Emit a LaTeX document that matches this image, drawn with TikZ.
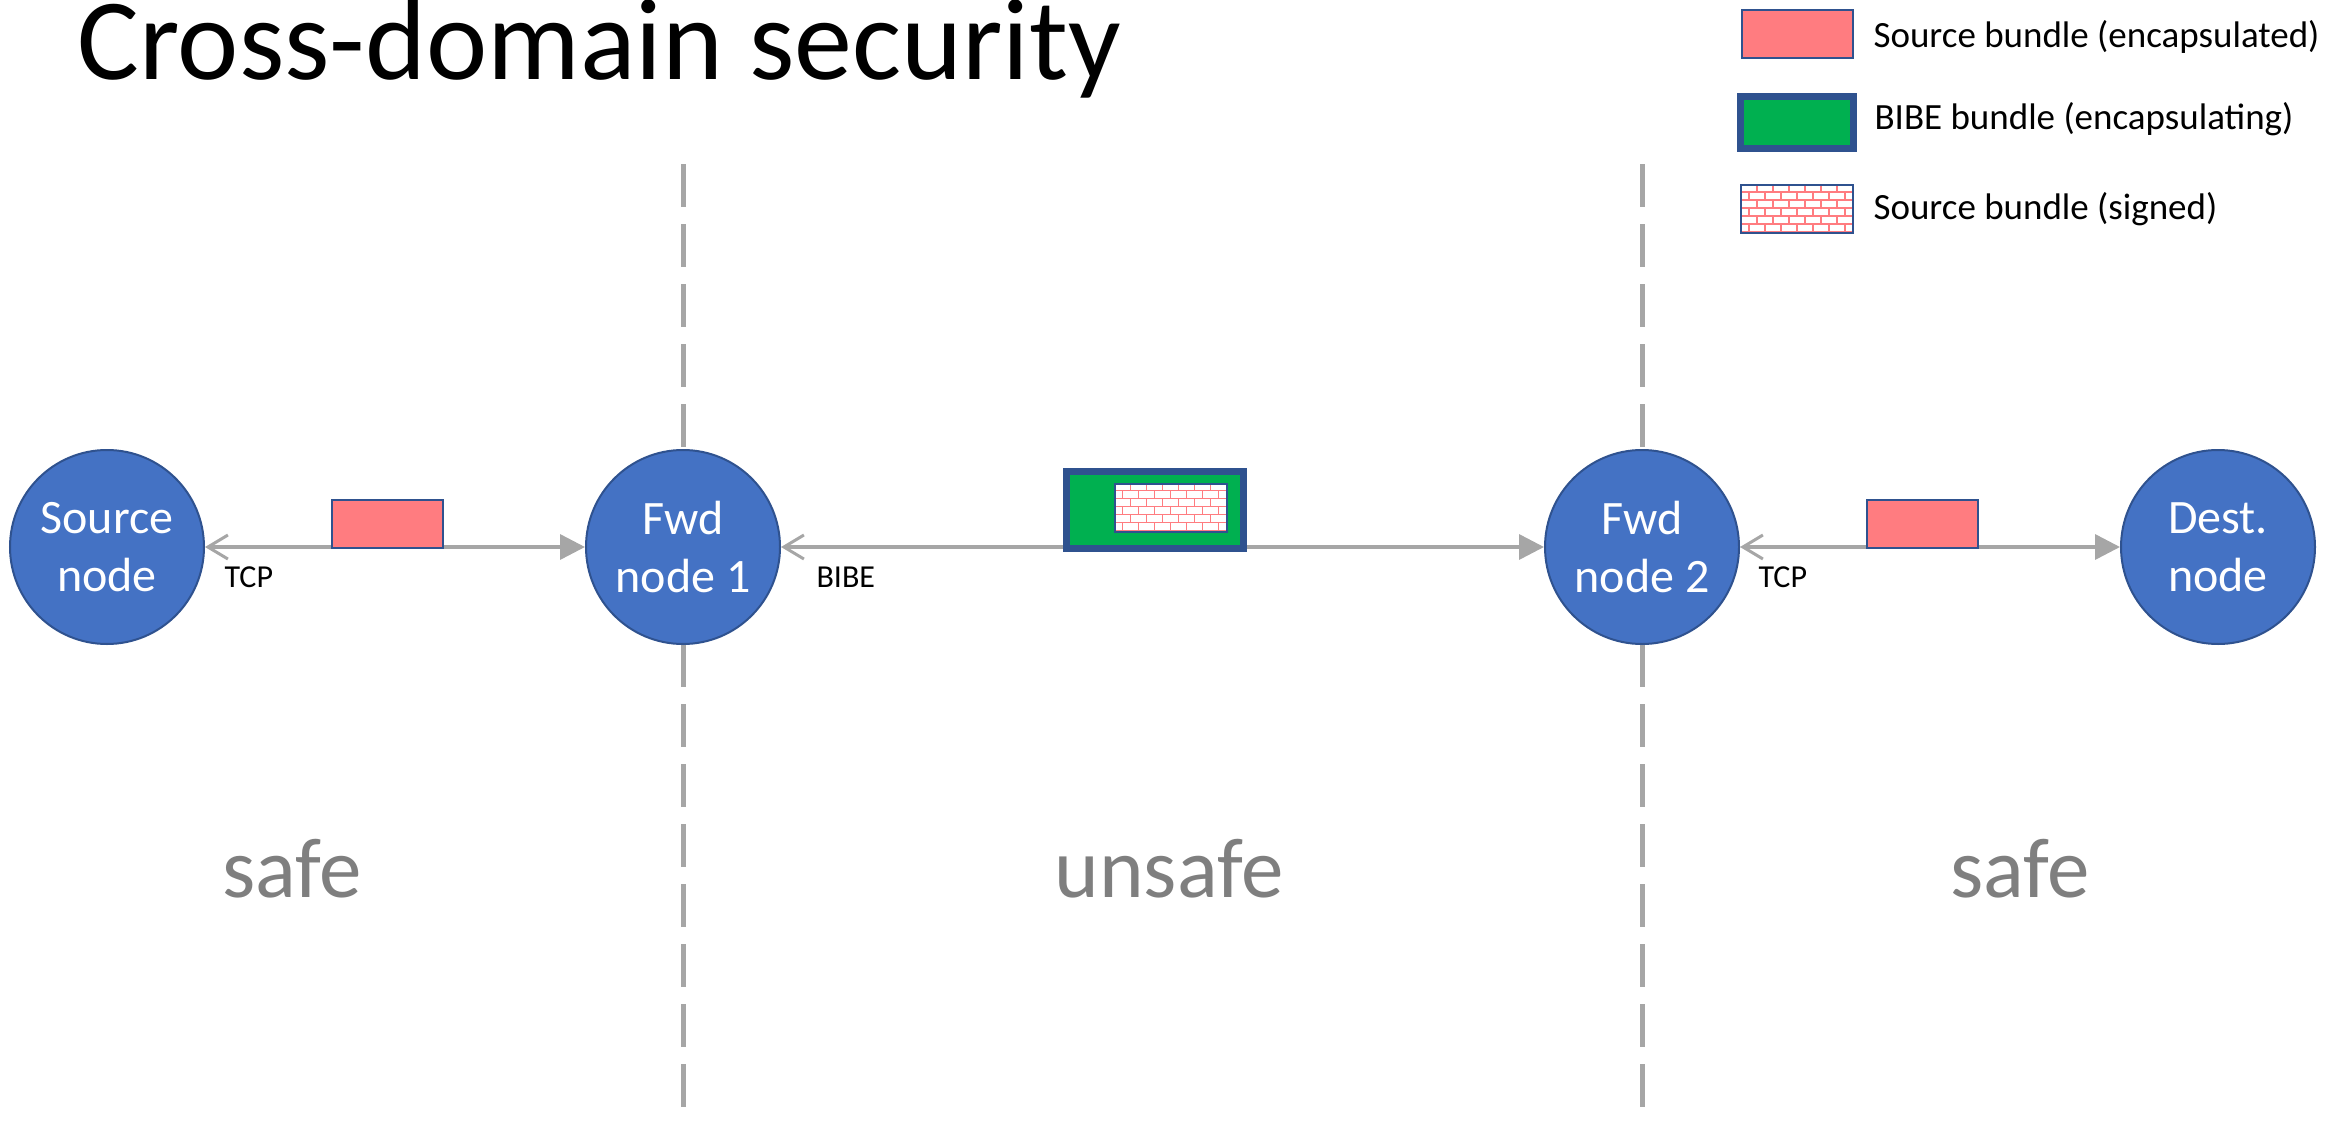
\documentclass[tikz,border=0pt]{standalone}
\usepackage{fontspec}
\setmainfont{Carlito}
\usepackage{tikz}
\usetikzlibrary{shapes,arrows.meta,positioning}
\definecolor{nodeblue}{HTML}{4472C4}
\definecolor{edgeblue}{HTML}{2F528F}
\definecolor{bundlepink}{HTML}{FF7C80}
\definecolor{bibegreen}{HTML}{00B050}
\definecolor{linkgray}{HTML}{A6A6A6}
\definecolor{zonegray}{HTML}{7F7F7F}

% brick fill of a signed bundle
\newcommand\brickfill[1]{%
  \begin{scope}
    \clip (#1.north west) rectangle (#1.south east);
    \begin{scope}[shift={(#1.north west)}]
      \foreach \r in {0,...,6}{
        \draw[brickline] (0,8*\r+7) -- (120,8*\r+7);
        \pgfmathsetmacro\brickoff{mod(\r,2)*8}
        \foreach \k in {0,...,7}
          \draw[brickline] (\brickoff+16*\k,8*\r-1) -- ++(0,8);
      }
    \end{scope}
  \end{scope}
  \draw[draw=edgeblue,line width=2pt] (#1.north west) rectangle (#1.south east);}

\begin{document}
\begin{tikzpicture}[x=1pt,y=-1pt]
\tikzset{
  dtnnode/.style={circle,fill=nodeblue,draw=edgeblue,line width=2pt,minimum size=194pt,inner sep=0pt,text=white,align=center,font={\fontsize{48}{58}\selectfont}},
  srcbundle/.style={rectangle,fill=bundlepink,draw=edgeblue,line width=2pt,minimum width=111pt,minimum height=48pt,inner sep=0pt,outer sep=0pt},
  bibebundle/.style={rectangle,fill=bibegreen,draw=edgeblue,line width=7pt,minimum width=177pt,minimum height=77pt,inner sep=0pt,outer sep=0pt},
  signedbundle/.style={rectangle,fill=white,draw=edgeblue,line width=2pt,minimum width=112pt,minimum height=48pt,inner sep=0pt,outer sep=0pt},
  brickline/.style={draw=bundlepink,line width=1.6pt},
  link/.style={draw=linkgray,line width=3.5pt,{Straight Barb[length=20pt,width=24pt,line width=3pt]}-{Triangle[length=25pt,width=25pt]}},
  border/.style={draw=linkgray,line width=5pt,dash pattern=on 43pt off 17pt},
  proto/.style={anchor=base west,font={\fontsize{32}{38}\selectfont}},
  zone/.style={anchor=base,text=zonegray,font={\fontsize{85}{100}\selectfont}},
  legendtext/.style={anchor=base west,font={\fontsize{37}{44}\selectfont}}
}
\useasboundingbox (0,0) rectangle (2351,1124);

%Title
\node[anchor=base west,font={\fontsize{116}{136}\selectfont}] (title) at (74,80) {Cross-domain security};

%Domain borders
\coordinate (cutAtop) at (683,164);
\coordinate (cutAbot) at (683,1124);
\coordinate (cutBtop) at (1642,164);
\coordinate (cutBbot) at (1642,1124);
\draw[border] (cutAtop) -- (cutAbot);
\draw[border] (cutBtop) -- (cutBbot);

%Nodes
\node[dtnnode] (src) at (107,547) {Source\\node};
\node[dtnnode] (fwdA) at (683,547) {Fwd\\node 1};
\node[dtnnode] (fwdB) at (1642,547) {Fwd\\node 2};
\node[dtnnode] (dst) at (2218,547) {Dest.\\node};

%Links
\draw[link] (src) -- (fwdA);
\draw[link] (fwdA) -- (fwdB);
\draw[link] (fwdB) -- (dst);
\node[proto] (tcpA) at (221,587) {TCP};
\node[proto] (bibeA) at (813,587) {BIBE};
\node[proto] (tcpB) at (1755,587) {TCP};

%Bundles
\node[srcbundle] (bundleA) at (387,523.5) {};
\node[srcbundle] (bundleB) at (1922.5,523.5) {};
\node[bibebundle] (bibe) at (1155,510) {};
\node[signedbundle] (signedA) at (1170.5,507.5) {};
\brickfill{signedA}

%Zones
\node[zone] (safeA) at (292,897) {safe};
\node[zone] (unsafe) at (1169,897) {unsafe};
\node[zone] (safeB) at (2020,897) {safe};

%Legend
\node[srcbundle] (keySrc) at (1797.5,34.5) {};
\node[bibebundle,minimum width=113pt,minimum height=52pt] (keyBibe) at (1797,122.5) {};
\node[signedbundle] (keySigned) at (1797,209) {};
\brickfill{keySigned}
\node[legendtext] (keySrcTxt) at (1870,48) {Source bundle (encapsulated)};
\node[legendtext] (keyBibeTxt) at (1871,129) {BIBE bundle (encapsulating)};
\node[legendtext] (keySignedTxt) at (1870,219) {Source bundle (signed)};

\end{tikzpicture}
\end{document}
